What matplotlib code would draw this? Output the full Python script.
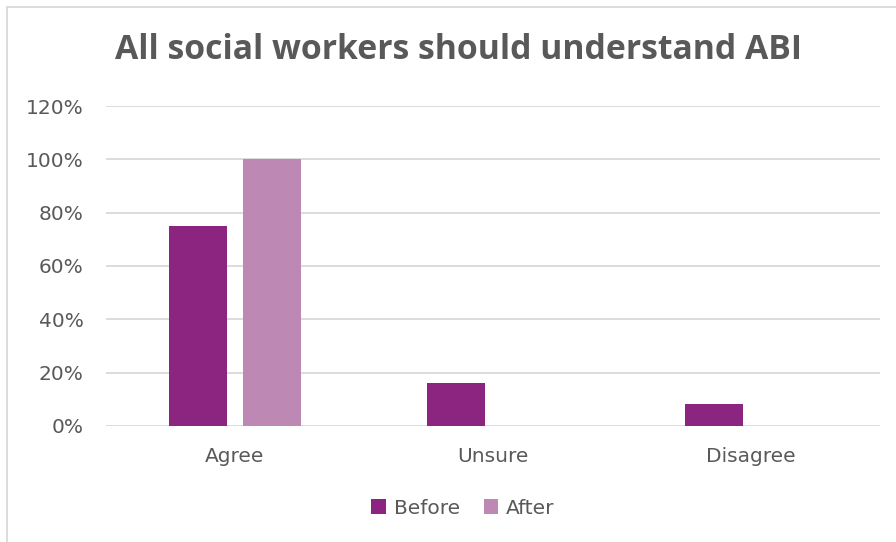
import matplotlib.pyplot as plt
import numpy as np
from matplotlib.patches import Rectangle

# Survey responses, share of respondents
categories = ['Agree', 'Unsure', 'Disagree']
before = [0.75, 0.16, 0.08]
after = [1.00, 0.0, 0.0]
yticks = [0, 0.2, 0.4, 0.6, 0.8, 1.0, 1.2]

text_color = '#595959'
before_color = '#8B2580'
after_color = '#BE88B5'

W, H = 896, 542
fig = plt.figure(figsize=(W / 100, H / 100), dpi=100)

# light frame round the chart area
fig.add_artist(Rectangle((7 / W, -0.1), 1.2, 1 - 7 / H + 0.1, transform=fig.transFigure,
                         fill=False, edgecolor='#D9D9D9', linewidth=1.3))

left, right, bottom, top = 106, 880, 425.8, 106
ax = fig.add_axes([left / W, 1 - bottom / H, (right - left) / W, (bottom - top) / H])

x = np.arange(len(categories))
width = 0.225
offset = 0.143
ax.bar(x - offset, before, width, color=before_color, label='Before', zorder=3)
ax.bar(x + offset, after, width, color=after_color, label='After', zorder=3)

ax.set_xlim(-0.5, len(categories) - 0.5)
ax.set_ylim(0, 1.2)
ax.set_yticks(yticks)
ax.set_yticklabels([f'{int(round(t * 100))}%' for t in yticks])
ax.set_xticks(x)
ax.set_xticklabels(categories)

ax.grid(axis='y', color='#D9D9D9', linewidth=1.3, zorder=0)
for s in ax.spines.values():
    s.set_visible(False)
ax.tick_params(axis='both', length=0, labelsize=14.5, colors=text_color)
ax.tick_params(axis='y', pad=16)
ax.tick_params(axis='x', pad=15)

fig.text(458 / W, 1 - 50 / H, 'All social workers should understand ABI', ha='center', va='center',
         fontsize=24.3, fontweight='bold', color=text_color, family='Open Sans')

leg = fig.legend(loc='center', bbox_to_anchor=(463 / W, 1 - 508 / H), ncol=2, frameon=False,
                 fontsize=14.5, handlelength=0.7, handleheight=0.7, handletextpad=0.4,
                 columnspacing=1.2)
for t in leg.get_texts():
    t.set_color(text_color)

fig.savefig('out.png', dpi=100)
